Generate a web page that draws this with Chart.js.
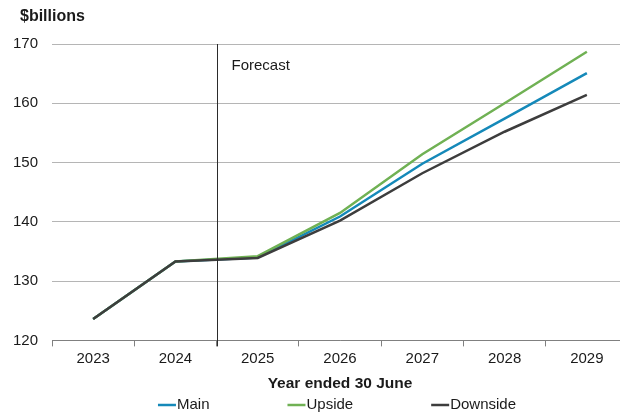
<!DOCTYPE html>
<html>
<head>
<meta charset="utf-8">
<script src="https://cdn.jsdelivr.net/npm/chart.js@4"></script>
<style>
  body { margin: 0; background: #fff; overflow: hidden; }
  #wrap { width: 640px; height: 415px; }
</style>
</head>
<body>
<div id="wrap"><canvas id="revChart" width="640" height="415"></canvas></div>
<script>
const years = ['2023', '2024', '2025', '2026', '2027', '2028', '2029'];
const mainCase = [123.6, 133.3, 134.0, 140.9, 149.8, 157.4, 165.1];
const upsideCase = [123.6, 133.3, 134.2, 141.5, 151.4, 160.0, 168.7];
const downsideCase = [123.6, 133.3, 133.9, 140.2, 148.2, 155.2, 161.4];
const yTicks = [120, 130, 140, 150, 160, 170];
const forecastFrom = '2025';

const FONT = "'Liberation Sans', Arial, sans-serif";
const colMain = '#1589b9';
const colUp = '#70b154';
const colDown = '#3d3d3d';

const seriesList = [
  { label: 'Main', data: mainCase, color: colMain },
  { label: 'Upside', data: upsideCase, color: colUp },
  { label: 'Downside', data: downsideCase, color: colDown }
];

// extra bits: forecast divider, unit label and the line legend at the bottom
const decorations = {
  id: 'decorations',
  afterDatasetsDraw(chart) {
    const { ctx, chartArea, scales } = chart;
    const x = scales.x;
    const i = years.indexOf(forecastFrom);
    const xLine = Math.round((x.getPixelForValue(i - 1) + x.getPixelForValue(i)) / 2) + 0.5;
    ctx.save();
    ctx.strokeStyle = '#2b2b2b';
    ctx.lineWidth = 1;
    ctx.beginPath();
    ctx.moveTo(xLine, chartArea.top);
    ctx.lineTo(xLine, chartArea.bottom + 6);
    ctx.stroke();

    ctx.fillStyle = '#1a1a1a';
    ctx.font = '15px ' + FONT;
    ctx.textBaseline = 'middle';
    ctx.textAlign = 'left';
    ctx.fillText('Forecast', xLine + 14, chartArea.top + 22);

    ctx.font = 'bold 16px ' + FONT;
    ctx.fillText('$billions', 20, 17);

    // legend
    ctx.font = '15px ' + FONT;
    const lineW = 18, gap = 78;
    const widths = seriesList.map(s => lineW + 1 + ctx.measureText(s.label).width);
    const total = widths.reduce((a, b) => a + b, 0) + gap * (widths.length - 1);
    let lx = (chartArea.left + chartArea.right) / 2 - total / 2 - 3;
    const ly = 405;
    seriesList.forEach((s, k) => {
      ctx.strokeStyle = s.color;
      ctx.lineWidth = 2.5;
      ctx.beginPath();
      ctx.moveTo(lx, ly);
      ctx.lineTo(lx + lineW, ly);
      ctx.stroke();
      ctx.fillStyle = '#1a1a1a';
      ctx.fillText(s.label, lx + lineW + 1, ly);
      lx += widths[k] + gap;
    });
    ctx.restore();
  }
};

new Chart(document.getElementById('revChart'), {
  type: 'line',
  data: {
    labels: years,
    datasets: seriesList.map((s, k) => ({
      label: s.label,
      data: s.data,
      borderColor: s.color,
      backgroundColor: s.color,
      borderWidth: 2.5,
      pointRadius: 0,
      tension: 0,
      order: seriesList.length - 1 - k
    }))
  },
  options: {
    responsive: false,
    animation: false,
    layout: { padding: { left: 13, right: 12, top: 44, bottom: 20 } },
    plugins: {
      legend: { display: false },
      tooltip: { enabled: false }
    },
    scales: {
      x: {
        offset: true,
        grid: {
          offset: true,
          drawOnChartArea: false,
          drawTicks: true,
          tickLength: 6,
          color: '#808080'
        },
        border: { display: true, color: '#808080', width: 1 },
        ticks: { color: '#1a1a1a', font: { family: FONT, size: 15 }, padding: 3, maxRotation: 0 },
        title: {
          display: true,
          text: 'Year ended 30 June',
          color: '#1a1a1a',
          font: { family: FONT, size: 15.5, weight: 'bold' },
          padding: { top: 4, bottom: 2 }
        }
      },
      y: {
        min: yTicks[0],
        max: yTicks[yTicks.length - 1],
        afterBuildTicks(axis) {
          axis.ticks = yTicks.map(v => ({ value: v }));
        },
        afterFit(axis) {
          axis.width = 39;
        },
        grid: { color: '#b5b5b5', drawTicks: false, lineWidth: 1 },
        border: { display: false },
        ticks: { color: '#1a1a1a', font: { family: FONT, size: 15 }, padding: 14 }
      }
    }
  },
  plugins: [decorations]
});
</script>
</body>
</html>
